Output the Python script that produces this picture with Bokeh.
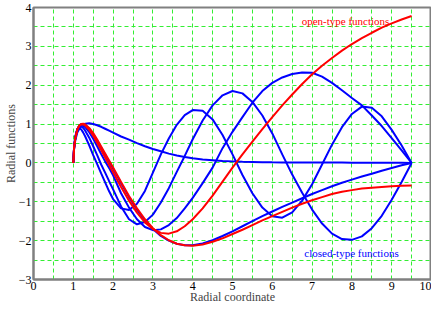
from bokeh.plotting import figure
from bokeh.models import FixedTicker, Range1d
from bokeh.core.properties import value
from bokeh.embed import file_html
from bokeh.resources import INLINE

# Radial coordinate samples
r = [1.0, 1.02, 1.05, 1.1, 1.15, 1.2, 1.25, 1.3, 1.4, 1.5, 1.6, 1.7, 1.8, 1.9, 2.0,
     2.2, 2.4, 2.6, 2.8, 3.0, 3.2, 3.4, 3.6, 3.8, 4.0,
     4.25, 4.5, 4.75, 5.0, 5.25, 5.5, 5.75, 6.0, 6.25, 6.5, 6.75, 7.0, 7.25, 7.5,
     7.75, 8.0, 8.25, 8.5, 8.75, 9.0, 9.25, 9.5]

# closed-type functions (blue)
closed_0 = [0.0, 0.36, 0.58, 0.78, 0.88, 0.95, 0.99, 1.01, 1.02, 1.0, 0.97, 0.93, 0.88, 0.83, 0.78,
            0.68, 0.6, 0.51, 0.43, 0.36, 0.3, 0.24, 0.19, 0.15, 0.12,
            0.09, 0.07, 0.05, 0.04, 0.03, 0.025, 0.02, 0.015, 0.013, 0.012, 0.011, 0.01, 0.01, 0.009,
            0.008, 0.007, 0.006, 0.005, 0.004, 0.003, 0.002, 0.0]
closed_1 = [0.0, 0.4, 0.65, 0.87, 0.96, 0.98, 0.96, 0.92, 0.79, 0.62, 0.43, 0.23, 0.04, -0.13, -0.32,
            -0.78, -1.15, -1.45, -1.65, -1.73, -1.71, -1.6, -1.42, -1.17, -0.9,
            -0.52, -0.12, 0.38, 0.8, 1.18, 1.55, 1.85, 2.06, 2.2, 2.29, 2.33, 2.32, 2.22, 2.06,
            1.87, 1.67, 1.48, 1.22, 0.95, 0.64, 0.32, 0.0]
closed_2 = [0.0, 0.4, 0.66, 0.87, 0.94, 0.94, 0.9, 0.83, 0.65, 0.43, 0.2, -0.04, -0.25, -0.47, -0.68,
            -1.12, -1.45, -1.58, -1.52, -1.33, -1.02, -0.65, -0.23, 0.18, 0.61,
            1.09, 1.48, 1.74, 1.85, 1.79, 1.57, 1.22, 0.76, 0.22, -0.3, -0.77, -1.2, -1.56, -1.82,
            -1.96, -1.98, -1.89, -1.68, -1.36, -0.95, -0.49, 0.0]
closed_3 = [0.0, 0.42, 0.68, 0.86, 0.9, 0.86, 0.78, 0.68, 0.45, 0.2, -0.03, -0.27, -0.5, -0.73, -0.93,
            -1.17, -1.21, -1.05, -0.72, -0.25, 0.22, 0.63, 0.98, 1.23, 1.36,
            1.34, 1.12, 0.72, 0.22, -0.31, -0.78, -1.15, -1.37, -1.41, -1.27, -0.97, -0.55, -0.04, 0.47,
            0.92, 1.26, 1.45, 1.42, 1.2, 0.85, 0.45, 0.0]
closed_4 = [0.0, 0.38, 0.63, 0.85, 0.96, 1.0, 1.0, 0.98, 0.88, 0.74, 0.57, 0.39, 0.21, 0.03, -0.15,
            -0.52, -0.88, -1.2, -1.48, -1.7, -1.88, -2.0, -2.08, -2.12, -2.12,
            -2.07, -1.99, -1.88, -1.76, -1.63, -1.5, -1.37, -1.25, -1.13, -1.02, -0.91, -0.8, -0.7, -0.6,
            -0.51, -0.43, -0.35, -0.28, -0.2, -0.13, -0.06, 0.0]

# open-type functions (red)
open_0 = [0.0, 0.39, 0.64, 0.86, 0.96, 0.99, 0.99, 0.96, 0.85, 0.7, 0.52, 0.33, 0.14, -0.05, -0.24,
          -0.62, -0.97, -1.28, -1.53, -1.7, -1.8, -1.82, -1.76, -1.63, -1.45,
          -1.17, -0.84, -0.48, -0.12, 0.22, 0.55, 0.87, 1.18, 1.48, 1.76, 2.03, 2.28, 2.5, 2.7,
          2.89, 3.06, 3.21, 3.35, 3.48, 3.59, 3.69, 3.78]
open_1 = [0.0, 0.38, 0.63, 0.85, 0.96, 1.0, 1.01, 0.99, 0.9, 0.77, 0.6, 0.42, 0.24, 0.06, -0.12,
          -0.49, -0.85, -1.17, -1.45, -1.68, -1.86, -1.99, -2.08, -2.12, -2.13,
          -2.1, -2.03, -1.94, -1.83, -1.72, -1.6, -1.48, -1.37, -1.26, -1.15, -1.05, -0.96, -0.88, -0.8,
          -0.74, -0.7, -0.66, -0.64, -0.62, -0.6, -0.59, -0.58]

x_ticks = [0, 1, 2, 3, 4, 5, 6, 7, 8, 9, 10]
y_ticks = [-3, -2, -1, 0, 1, 2, 3, 4]
x_grid = [0.5, 1, 1.5, 2, 2.5, 3, 3.5, 4, 4.5, 5, 5.5, 6, 6.5, 7, 7.5, 8, 8.5, 9, 9.5]
y_grid = [-2.5, -2, -1.5, -1, -0.5, 0, 0.5, 1, 1.5, 2, 2.5, 3, 3.5]

FONT = "Liberation Serif"

p = figure(width=431, height=306, output_backend="svg", toolbar_location=None,
           x_range=Range1d(0, 10), y_range=Range1d(-3, 4),
           min_border_left=0, min_border_right=0, min_border_top=7, min_border_bottom=0)
p.background_fill_color = "white"
p.border_fill_color = "white"
p.outline_line_color = "#808080"
p.outline_line_width = 2

for ax, ticks in ((p.xaxis[0], x_ticks), (p.yaxis[0], y_ticks)):
    ax.ticker = FixedTicker(ticks=ticks)
    ax.axis_line_color = "#808080"
    ax.axis_line_width = 2
    ax.major_tick_line_color = None
    ax.minor_tick_line_color = None
    ax.major_tick_out = 0
    ax.major_tick_in = 0
    ax.major_label_standoff = 2
    ax.major_label_text_font = FONT
    ax.major_label_text_font_size = "12px"
    ax.axis_label_text_font = FONT
    ax.axis_label_text_font_size = "12px"
    ax.axis_label_text_font_style = "normal"
    ax.major_label_text_color = "black"

p.xaxis[0].axis_label = "Radial coordinate"
p.yaxis[0].axis_label = "Radial functions"
p.xaxis[0].axis_label_standoff = -3
p.yaxis[0].axis_label_standoff = -2

p.xgrid[0].ticker = FixedTicker(ticks=x_grid)
p.ygrid[0].ticker = FixedTicker(ticks=y_grid)
for g in (p.xgrid[0], p.ygrid[0]):
    g.grid_line_color = "#33ee33"
    g.grid_line_width = 1
    g.grid_line_dash = "4 3"

for ys in (closed_0, closed_1, closed_2, closed_3, closed_4):
    p.line(r, ys, line_color="#0000ff", line_width=2)
for ys in (open_0, open_1):
    p.line(r, ys, line_color="#ff0000", line_width=2)

p.text(x=[7.84], y=[3.66], text=["open-type functions"], text_color="#ff0000",
       text_font=value(FONT), text_font_size="11px", text_align="center", text_baseline="middle")
p.text(x=[7.99], y=[-2.31], text=["closed-type functions"], text_color="#0000ff",
       text_font=value(FONT), text_font_size="11px", text_align="center", text_baseline="middle")

open("out.html", "w").write(file_html(p, INLINE))
